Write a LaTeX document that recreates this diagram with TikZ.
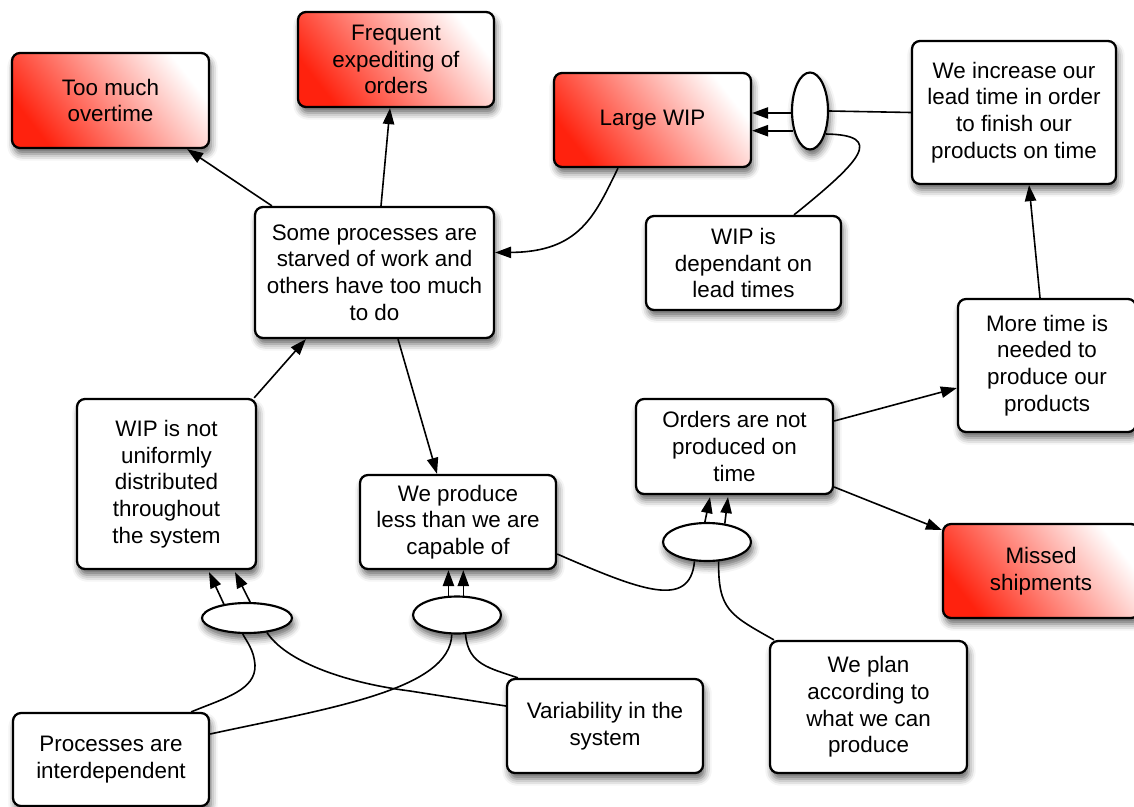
\documentclass[tikz,border=0pt]{standalone}
\usepackage{fontspec}
\setmainfont{Liberation Sans}
\usetikzlibrary{shapes.geometric,arrows.meta,calc,shadows.blur}
\definecolor{wred}{RGB}{255,34,14}
\begin{document}
\begin{tikzpicture}[x=0.75pt,y=-0.75pt,
  every node/.style={font=\fontsize{16.8}{20}\selectfont},
  shadowed/.style={blur shadow={shadow xshift=1.5pt,shadow yshift=-4.5pt,shadow blur radius=5pt,shadow opacity=60}},
  box/.style={draw,line width=1.7pt,rounded corners=6pt,fill=white,align=center,inner sep=0pt,shadowed},
  redbox/.style={box,left color=wred,middle color=wred!48!white,right color=white,shading angle=128},
  sz/.style 2 args={minimum width=#1*0.75pt,minimum height=#2*0.75pt},
  junction/.style={ellipse,draw,line width=1.6pt,fill=white,inner sep=0pt,shadowed},
  link/.style={line width=1.2pt},
  arr/.style={link,-{Triangle[length=12pt,width=8.5pt]}}]

\useasboundingbox (0,0) rectangle (1134,806);
\clip (0,0) rectangle (1134,806);

% effects (red) and statements
\node[redbox,sz={197}{95}] (over) at (110.5,100.5) {Too much\\overtime};
\node[redbox,sz={196}{95}] (expe) at (396,59.5) {Frequent\\expediting of\\orders};
\node[redbox,sz={197}{94}] (lwip) at (652.5,120) {Large WIP};
\node[box,sz={204}{143}] (incr) at (1014,112.5) {We increase our\\lead time in order\\to finish our\\products on time};
\node[box,sz={239}{131}] (some) at (374.5,272.5) {Some processes are\\starved of work and\\others have too much\\to do};
\node[box,sz={195}{94}] (dep) at (743.5,263) {WIP is\\dependant on\\lead times};
\node[box,sz={178}{133}] (more) at (1047,365.5) {More time is\\needed to\\produce our\\products};
\node[box,sz={197}{95}] (ord) at (734.5,446.5) {Orders are not\\produced on\\time};
\node[box,sz={179}{170}] (wipn) at (166.5,484) {WIP is not\\uniformly\\distributed\\throughout\\the system};
\node[box,sz={196}{94}] (prod) at (458,522) {We produce\\less than we are\\capable of};
\node[redbox,sz={196}{94}] (miss) at (1041,571) {Missed\\shipments};
\node[box,sz={197}{132}] (plan) at (868.5,707) {We plan\\according to\\what we can\\produce};
\node[box,sz={196}{94}] (var) at (605,726) {Variability in the\\system};
\node[box,sz={196}{93}] (proc) at (111,759.5) {Processes are\\interdependent};

% AND junctions
\node[junction,sz={36}{77}] (E0) at (810,111) {};
\node[junction,sz={90}{30}] (E1) at (247,618) {};
\node[junction,sz={88}{37}] (E2) at (457,615) {};
\node[junction,sz={88}{38}] (E3) at (707,542) {};

% junction at Large WIP
\draw[link] (incr.west) -- (E0.east);
\draw[link] ($(dep.north)+(50.5,0)$) .. controls (862,160) and (885,135) .. (E0.-56);
\draw[arr] (E0.186) -- (E0.186 -| lwip.east);
\draw[arr] (E0.230) -- (E0.230 -| lwip.east);

% links around the central statement
\draw[arr] ($(lwip.south)+(-34.5,0)$) .. controls (595,215) and (580,252) .. ($(some.east)+(0,-20)$);
\draw[arr] ($(some.north west)+(18,0)$) -- ($(over.south east)+(-23,0)$);
\draw[arr] ($(some.north)+(6.5,0)$) -- ($(expe.south)+(-6,0)$);
\draw[arr] ($(some.south)+(23.5,0)$) -- ($(prod.north)+(-21,0)$);
\draw[arr] ($(wipn.north east)+(-3,0)$) -- ($(some.south west)+(52,0)$);

% junction under WIP distribution
\draw[arr] (E1.149) -- ($(wipn.south)+(42.5,2)$);
\draw[arr] (E1.79) -- ($(wipn.south)+(68.5,2)$);
\draw[link] ($(proc.north east)+(-19,0)$) .. controls (225,698) and (256,690) .. (255,665)
  .. controls (254,650) and (247,642) .. (E1.-105);
\draw[link] (E1.-36) .. controls (285,660) and (340,682) .. (410,691) -- ($(var.west)+(0,-20)$);

% junction under production
\draw[arr] (E2.114) -- (E2.114 |- prod.south);
\draw[arr] (E2.72) -- (E2.72 |- prod.south);
\draw[link] ($(proc.east)+(0,-25.5)$) .. controls (330,708) and (450,690) .. (E2.-105);
\draw[link] (E2.-66) .. controls (468,665) and (490,668) .. ($(var.north west)+(12,0)$);

% junction under late orders
\draw[arr] (E3.96) -- ($(ord.south)+(-24.5,2)$);
\draw[arr] (E3.46) -- ($(ord.south)+(-6.5,2)$);
\draw[link] ($(prod.east)+(0,32)$) .. controls (640,590) and (690,610) .. (E3.-123);
\draw[link] (E3.-59) .. controls (718,610) and (730,615) .. ($(plan.north west)+(5,0)$);

% right-hand chain
\draw[arr] ($(ord.east)+(0,-25.5)$) -- ($(more.west)+(0,22.5)$);
\draw[arr] ($(ord.east)+(0,40.5)$) -- ($(miss.west)+(0,-41)$);
\draw[arr] ($(more.north)+(-7,0)$) -- ($(incr.south)+(15,0)$);
\end{tikzpicture}
\end{document}
